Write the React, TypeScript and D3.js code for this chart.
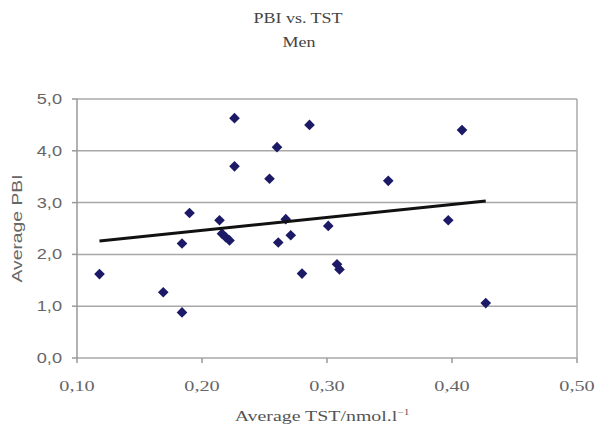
import React from "react";
import * as d3 from "d3";

const tstValues = [0.118, 0.169, 0.184, 0.184, 0.19, 0.214, 0.216, 0.219, 0.222, 0.226, 0.226, 0.254, 0.26, 0.261, 0.267, 0.271, 0.28, 0.286, 0.301, 0.308, 0.31, 0.349, 0.397, 0.408, 0.427];
const pbiValues = [1.62, 1.27, 0.88, 2.21, 2.8, 2.66, 2.4, 2.33, 2.27, 4.63, 3.7, 3.46, 4.07, 2.23, 2.68, 2.37, 1.63, 4.5, 2.55, 1.81, 1.71, 3.42, 2.66, 4.4, 1.06];
const trendX = [0.118, 0.427];
const trendY = [2.26, 3.03];
const xTicks = [0.1, 0.2, 0.3, 0.4, 0.5];
const yTicks = [0, 1, 2, 3, 4, 5];

const W = 595, H = 438;
const M = { left: 77, right: 577, top: 99, bottom: 358 };

function T(props: { x: number; y: number; sx: number; rot?: number; anchor: string; family: string; size: number; fill: string; children: React.ReactNode }) {
  const { x, y, sx, rot, anchor, family, size, fill, children } = props;
  const tr = rot ? `translate(${x},${y}) rotate(${rot}) scale(${sx},1)` : `translate(${x},${y}) scale(${sx},1)`;
  return (
    <text transform={tr} textAnchor={anchor} fontFamily={family} fontSize={size} fill={fill}>{children}</text>
  );
}

export default function App() {
  const x = d3.scaleLinear().domain([0.1, 0.5]).range([M.left, M.right]);
  const y = d3.scaleLinear().domain([0, 5]).range([M.bottom, M.top]);
  const fmtX = (v: number) => d3.format(".2f")(v).replace(".", ",");
  const fmtY = (v: number) => d3.format(".1f")(v).replace(".", ",");
  const line = d3.line<number>().x((d, i) => x(trendX[i])).y((d, i) => y(trendY[i]));
  const diamond = d3.symbol().type(d3.symbolDiamond2).size(72)() as string;
  return (
    <svg width={W} height={H} style={{ position: "absolute", left: 0, top: 0, background: "#fff" }}>
      <T x={298} y={23} sx={1.2} anchor="middle" family="Liberation Serif" size={15} fill="#444">PBI vs. TST</T>
      <T x={299} y={47} sx={1.2} anchor="middle" family="Liberation Serif" size={15} fill="#444">Men</T>
      {yTicks.map((t) => (
        <g key={"y" + t}>
          <line x1={M.left} x2={M.right} y1={y(t)} y2={y(t)} stroke="#a8a8a8" strokeWidth={1.5} />
          <line x1={M.left - 5} x2={M.left} y1={y(t)} y2={y(t)} stroke="#999" strokeWidth={1.5} />
          <T x={M.left - 15} y={y(t) + 5} sx={1.3} anchor="end" family="Liberation Sans" size={14} fill="#666">{fmtY(t)}</T>
        </g>
      ))}
      <line x1={M.left} x2={M.left} y1={M.top} y2={M.bottom} stroke="#999" strokeWidth={1.5} />
      <line x1={M.right} x2={M.right} y1={M.top} y2={M.bottom} stroke="#aaa" strokeWidth={1.5} />
      {xTicks.map((t) => (
        <g key={"x" + t}>
          <line x1={x(t)} x2={x(t)} y1={M.bottom} y2={M.bottom + 5} stroke="#999" strokeWidth={1.5} />
          <T x={x(t)} y={M.bottom + 33} sx={1.45} anchor="middle" family="Liberation Serif" size={14} fill="#666">{fmtX(t)}</T>
        </g>
      ))}
      <T x={22} y={(M.top + M.bottom) / 2} rot={-90} sx={1.38} anchor="middle" family="Liberation Sans" size={14} fill="#666">Average PBI</T>
      <T x={322} y={421} sx={1.42} anchor="middle" family="Liberation Serif" size={14} fill="#555">
        Average TST/nmol.l<tspan dy={-6} fontSize={8}>−1</tspan>
      </T>
      {tstValues.map((v, i) => (
        <path key={"p" + i} d={diamond} transform={`translate(${x(v)},${y(pbiValues[i])})`} fill="#1c1a66" />
      ))}
      <path d={line(trendX) || ""} stroke="#111" strokeWidth={3} fill="none" />
    </svg>
  );
}
